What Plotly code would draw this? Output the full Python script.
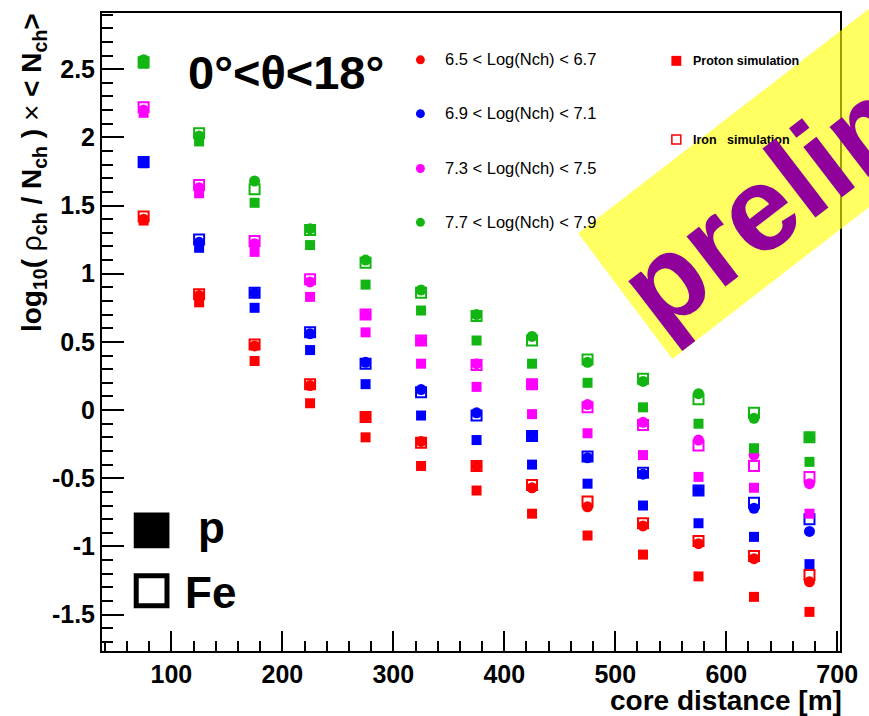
import plotly.graph_objects as go

# ---------------- data ----------------
distance = [75, 125, 175, 225, 275, 325, 375, 425, 475, 525, 575, 625, 675]

bin_labels = ["6.5 &lt; Log(Nch) &lt; 6.7", "6.9 &lt; Log(Nch) &lt; 7.1",
              "7.3 &lt; Log(Nch) &lt; 7.5", "7.7 &lt; Log(Nch) &lt; 7.9"]
bin_colors = ["#ff0000", "#0000ff", "#ff00ff", "#12b512"]

data_red = [1.40, 0.84, 0.47, 0.18, -0.05, -0.23, -0.41, -0.57, -0.71, -0.85, -0.98, -1.09, -1.26]
data_blue = [1.82, 1.23, 0.86, 0.56, 0.35, 0.15, -0.02, -0.19, -0.35, -0.47, -0.59, -0.72, -0.89]
data_magenta = [2.20, 1.63, 1.22, 0.94, 0.70, 0.51, 0.34, 0.19, 0.04, -0.09, -0.22, -0.33, -0.54]
data_green = [2.57, 2.01, 1.68, 1.33, 1.10, 0.88, 0.70, 0.54, 0.35, 0.21, 0.12, -0.06, -0.20]

proton_red = [1.39, 0.79, 0.36, 0.05, -0.20, -0.41, -0.59, -0.76, -0.92, -1.06, -1.22, -1.37, -1.48]
proton_blue = [1.81, 1.19, 0.75, 0.44, 0.19, -0.04, -0.22, -0.40, -0.54, -0.70, -0.83, -0.93, -1.13]
proton_magenta = [2.18, 1.59, 1.16, 0.83, 0.57, 0.34, 0.17, -0.03, -0.17, -0.33, -0.49, -0.57, -0.76]
proton_green = [2.54, 1.97, 1.52, 1.21, 0.92, 0.73, 0.51, 0.34, 0.20, 0.02, -0.10, -0.28, -0.38]

iron_red = [1.42, 0.85, 0.48, 0.19, -0.05, -0.24, -0.41, -0.55, -0.67, -0.83, -0.96, -1.07, -1.21]
iron_blue = [1.82, 1.25, 0.86, 0.57, 0.34, 0.13, -0.04, -0.19, -0.34, -0.46, -0.59, -0.68, -0.80]
iron_magenta = [2.22, 1.65, 1.24, 0.96, 0.70, 0.51, 0.33, 0.19, 0.02, -0.11, -0.26, -0.41, -0.49]
iron_green = [2.55, 2.03, 1.62, 1.32, 1.08, 0.86, 0.69, 0.51, 0.37, 0.23, 0.08, -0.02, -0.20]

data_sets = [data_red, data_blue, data_magenta, data_green]
proton_sets = [proton_red, proton_blue, proton_magenta, proton_green]
iron_sets = [iron_red, iron_blue, iron_magenta, iron_green]

x_tickvals = [100, 200, 300, 400, 500, 600, 700]
x_ticktext = ["100", "200", "300", "400", "500", "600", "700"]
y_tickvals = [-1.5, -1, -0.5, 0, 0.5, 1, 1.5, 2, 2.5]
y_ticktext = ["-1.5", "-1", "-0.5", "0", "0.5", "1", "1.5", "2", "2.5"]

# ---------------- layout helpers ----------------
W, H = 869, 716
L, R, T, B = 102, 846, 11, 651
FONT = "Liberation Sans, Arial, Helvetica, sans-serif"


def px(x):
    return (x - L) / (R - L)


def py(y):
    return (B - y) / (B - T)


fig = go.Figure()

for i in range(4):
    c = bin_colors[i]
    fig.add_trace(go.Scatter(x=distance, y=data_sets[i], mode="markers",
                             marker=dict(symbol="circle", size=11, color=c, line=dict(width=0)),
                             showlegend=False, cliponaxis=False, hoverinfo="skip"))
    fig.add_trace(go.Scatter(x=distance, y=proton_sets[i], mode="markers",
                             marker=dict(symbol="square", size=10, color=c, line=dict(width=0)),
                             showlegend=False, cliponaxis=False, hoverinfo="skip"))
    fig.add_trace(go.Scatter(x=distance, y=iron_sets[i], mode="markers",
                             marker=dict(symbol="square-open", size=10, color=c,
                                         line=dict(width=2, color=c)),
                             showlegend=False, cliponaxis=False, hoverinfo="skip"))

tickfont = dict(family=FONT, size=25, color="black", weight="bold")

fig.update_xaxes(range=[37.5, 702.5], showline=True, linewidth=2, linecolor="black", mirror=True,
                 ticks="inside", ticklen=20, tickwidth=2, tickcolor="black",
                 tickmode="array", tickvals=x_tickvals, ticktext=x_ticktext,
                 minor=dict(ticks="inside", ticklen=10, tickwidth=2, tickcolor="black",
                            dtick=20, tick0=0, showgrid=False),
                 showgrid=False, zeroline=False, tickfont=tickfont)
fig.update_yaxes(range=[-1.767, 2.912], showline=True, linewidth=2, linecolor="black", mirror=True,
                 ticks="inside", ticklen=22, tickwidth=2, tickcolor="black",
                 tickmode="array", tickvals=y_tickvals, ticktext=y_ticktext,
                 minor=dict(ticks="inside", ticklen=11, tickwidth=2, tickcolor="black",
                            dtick=0.1, tick0=0, showgrid=False),
                 showgrid=False, zeroline=False, tickfont=tickfont)

shapes = []
annotations = []

# legend for the Nch bins
leg_y = [58, 112, 167, 221]
for i in range(4):
    yc = leg_y[i]
    shapes.append(dict(type="circle", xref="paper", yref="paper",
                       x0=px(418.5), x1=px(427.5), y0=py(yc + 4.5), y1=py(yc - 4.5),
                       fillcolor=bin_colors[i], line=dict(width=0)))
    annotations.append(dict(text=bin_labels[i], xref="paper", yref="paper",
                            x=px(446), y=py(yc - 0.5), xanchor="left", yanchor="middle",
                            showarrow=False,
                            font=dict(family=FONT, size=16.5, color="black")))

# proton / iron simulation legend
shapes.append(dict(type="rect", xref="paper", yref="paper",
                   x0=px(676), x1=px(686), y0=py(64), y1=py(54),
                   fillcolor="#ff0000", line=dict(width=0)))
shapes.append(dict(type="rect", xref="paper", yref="paper",
                   x0=px(676.5), x1=px(685.5), y0=py(142.5), y1=py(133.5),
                   fillcolor="rgba(0,0,0,0)", line=dict(width=1.5, color="#ff0000")))
annotations.append(dict(text="Proton simulation", xref="paper", yref="paper",
                        x=px(696), y=py(59), xanchor="left", yanchor="middle", showarrow=False,
                        font=dict(family=FONT, size=12.5, color="black", weight="bold")))
annotations.append(dict(text="Iron\u00a0\u00a0\u00a0simulation", xref="paper", yref="paper",
                        x=px(696), y=py(138), xanchor="left", yanchor="middle", showarrow=False,
                        font=dict(family=FONT, size=12.5, color="black", weight="bold")))

# p / Fe legend
shapes.append(dict(type="rect", xref="paper", yref="paper",
                   x0=px(134), x1=px(170), y0=py(548), y1=py(512),
                   fillcolor="black", line=dict(width=0)))
shapes.append(dict(type="rect", xref="paper", yref="paper",
                   x0=px(136.5), x1=px(167.5), y0=py(605.5), y1=py(575.5),
                   fillcolor="rgba(0,0,0,0)", line=dict(width=5, color="black")))
annotations.append(dict(text="p", xref="paper", yref="paper", x=px(197), y=py(527),
                        xanchor="left", yanchor="middle", showarrow=False,
                        font=dict(family=FONT, size=44, color="black", weight="bold")))
annotations.append(dict(text="Fe", xref="paper", yref="paper", x=px(184), y=py(592),
                        xanchor="left", yanchor="middle", showarrow=False,
                        font=dict(family=FONT, size=44, color="black", weight="bold")))

# angle title
annotations.append(dict(text="0°&lt;θ&lt;18°", xref="paper", yref="paper", x=px(187), y=py(71),
                        xanchor="left", yanchor="middle", showarrow=False,
                        font=dict(family=FONT, size=47, color="black", weight="bold")))

# axis titles
annotations.append(dict(text="core distance [m]", xref="paper", yref="paper", x=px(849), y=py(717),
                        xanchor="right", yanchor="bottom", showarrow=False, borderpad=0,
                        font=dict(family=FONT, size=28, color="black", weight="bold")))
annotations.append(dict(
    text="log<sub>10</sub>( <span style='font-weight:normal'>ρ</span><sub>ch</sub> / N<sub>ch</sub> ) "
         "<span style='font-weight:normal'>×</span> &lt; N<sub>ch</sub>&gt;",
    xref="paper", yref="paper", x=px(33), y=py(9), xanchor="center", yanchor="top",
    textangle=-90, showarrow=False,
    font=dict(family=FONT, size=28, color="black", weight="bold")))

# "preliminary" watermark band
ax, ay = 582, 232
bx, by = 677, 358
ux, uy = 0.793, -0.609
ext = 520
path = "M {} {} L {} {} L {} {} L {} {} Z".format(
    px(ax), py(ay), px(bx), py(by), px(bx + ext * ux), py(by + ext * uy), px(ax + ext * ux), py(ay + ext * uy))
shapes.append(dict(type="path", xref="paper", yref="paper", path=path, layer="above",
                   fillcolor="rgba(255,255,0,0.62)", line=dict(width=0)))
annotations.append(dict(text="preliminary", xref="paper", yref="paper", x=px(898), y=py(104),
                        xanchor="center", yanchor="middle", textangle=-37.5, showarrow=False,
                        font=dict(family=FONT, size=120, color="#90009a", weight="bold")))

fig.update_layout(width=W, height=H, autosize=False,
                  margin=dict(l=L, r=W - R, t=T, b=H - B, pad=0),
                  paper_bgcolor="white", plot_bgcolor="rgba(0,0,0,0)",
                  shapes=shapes, annotations=annotations, showlegend=False)

fig.write_html("out.html")
